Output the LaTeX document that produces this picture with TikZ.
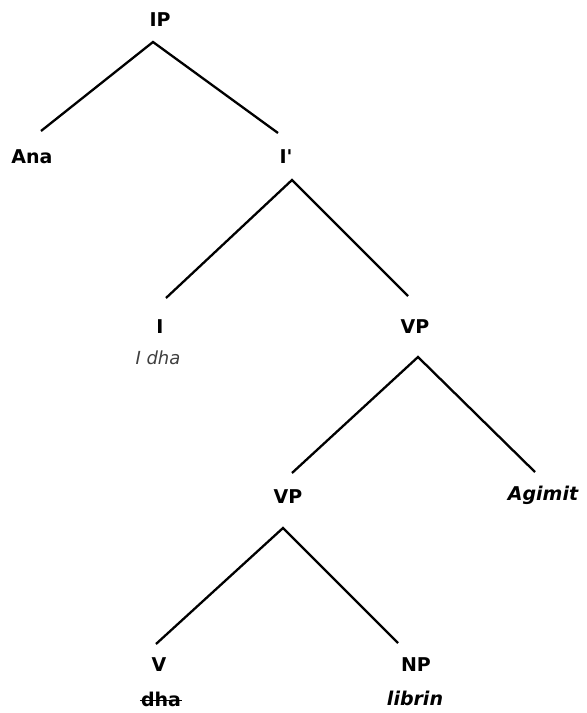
\documentclass[tikz,border=0pt]{standalone}
\usepackage{fontspec}
\setmainfont{DejaVu Sans}
\begin{document}
\begin{tikzpicture}[x=1pt,y=-1pt,
  lab/.style={font=\fontsize{19}{22}\selectfont\bfseries, inner sep=0pt, anchor=center},
  labi/.style={font=\fontsize{19}{22}\selectfont\bfseries\itshape, inner sep=0pt, anchor=center},
  gloss/.style={font=\fontsize{18}{22}\selectfont\itshape, text=black!75, inner sep=0pt, anchor=center},
  branch/.style={line width=2.3pt, black}]
\useasboundingbox (0,0) rectangle (587,713);
% labels
\node[lab] (ip) at (160,20) {IP};
\node[lab] (ana) at (32,157) {Ana};
\node[lab] (ibar) at (286,157) {I\textquotesingle};
\node[lab] (i) at (160,327) {I};
\node[gloss] (idha) at (158,358) {I dha};
\node[lab] (vp1) at (415,327) {VP};
\node[lab] (vp2) at (288,497) {VP};
\node[labi] (agimit) at (543,495) {Agimit};
\node[lab] (v) at (159,665) {V};
\node[lab] (dha) at (161,699) {dha};
\draw[line width=1.3pt] ([xshift=-1pt,yshift=5.5pt]dha.base west) -- ([xshift=1pt,yshift=5.5pt]dha.base east);
\node[lab] (np) at (416,665) {NP};
\node[labi] (librin) at (415,698) {librin};
% branch points
\coordinate (a1) at (153,42);
\coordinate (a1l) at (41,131);
\coordinate (a1r) at (278,133);
\coordinate (a2) at (292,180);
\coordinate (a2l) at (166,298);
\coordinate (a2r) at (408,296);
\coordinate (a3) at (418,357);
\coordinate (a3l) at (292,473);
\coordinate (a3r) at (535,472);
\coordinate (a4) at (283,528);
\coordinate (a4l) at (156,644);
\coordinate (a4r) at (398,643);
\draw[branch] (a1l) -- (a1) -- (a1r);
\draw[branch] (a2l) -- (a2) -- (a2r);
\draw[branch] (a3l) -- (a3) -- (a3r);
\draw[branch] (a4l) -- (a4) -- (a4r);
\end{tikzpicture}
\end{document}
